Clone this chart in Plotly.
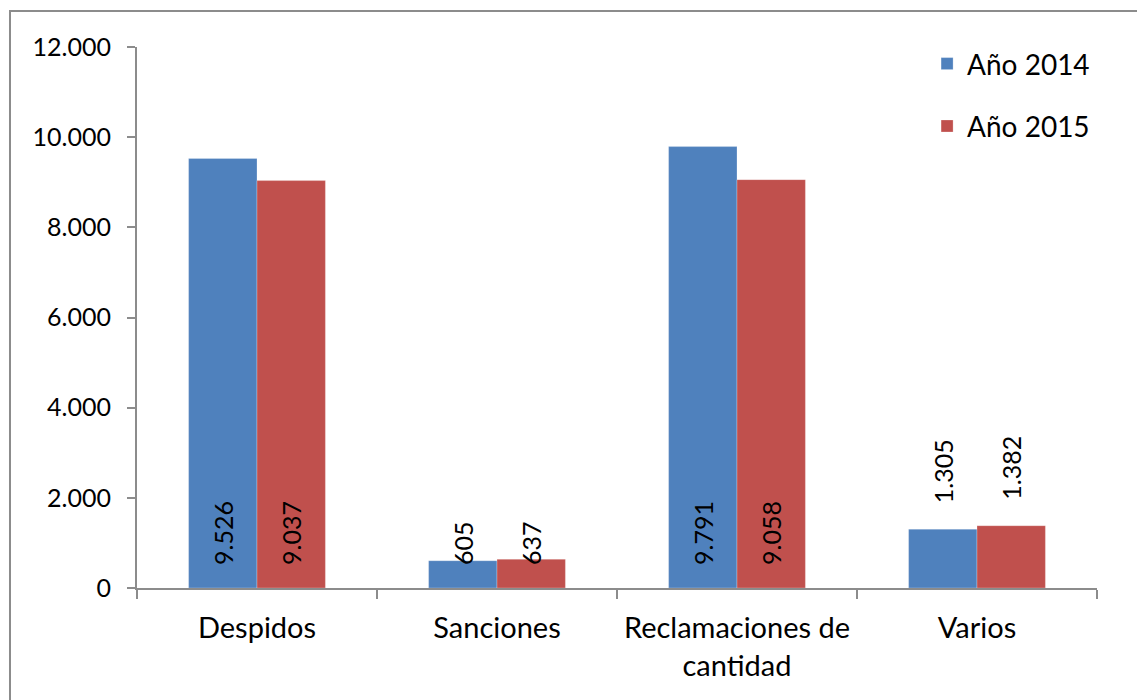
import plotly.graph_objects as go

categories = ["Despidos", "Sanciones", "Reclamaciones de<br>cantidad", "Varios"]
series_names = ["Año 2014", "Año 2015"]
values_2014 = [9526, 605, 9791, 1305]
values_2015 = [9037, 637, 9058, 1382]
labels_2014 = ["9.526", "605", "9.791", "1.305"]
labels_2015 = ["9.037", "637", "9.058", "1.382"]
label_outside = [False, False, False, True]
y_ticks = [0, 2000, 4000, 6000, 8000, 10000, 12000]
y_ticktext = ["0", "2.000", "4.000", "6.000", "8.000", "10.000", "12.000"]

FONT = "Lato"
FS = 25
colors = ["#4F81BD", "#C0504D"]

fig = go.Figure()
for i, (name, vals) in enumerate([(series_names[0], values_2014), (series_names[1], values_2015)]):
    fig.add_trace(go.Bar(
        x=categories, y=vals, name=name,
        marker=dict(color=colors[i], line=dict(color="rgba(255,255,255,0.5)", width=0.5)),
        legendgroup=name,
    ))

annotations = []
for vals, labs, shift in [(values_2014, labels_2014, -34), (values_2015, labels_2015, 34)]:
    for c, v, lab, out in zip(categories, vals, labs, label_outside):
        annotations.append(dict(
            x=c, y=(v if out else 0), xref="x", yref="y",
            text=lab, showarrow=False, textangle=-90,
            xanchor="center", yanchor="bottom",
            xshift=shift, yshift=(24 if out else 21),
            font=dict(family=FONT, size=FS, color="black"),
        ))

fig.update_layout(
    width=1145, height=700,
    margin=dict(l=129, r=56, t=39, b=120),
    paper_bgcolor="white", plot_bgcolor="white",
    font=dict(family=FONT, size=FS, color="black"),
    barmode="group", bargap=0.43, bargroupgap=0,
    showlegend=True,
    legend=dict(x=0.823, y=1.015, xanchor="left", yanchor="top",
                font=dict(family=FONT, size=28, color="black"),
                traceorder="grouped", tracegroupgap=23,
                itemwidth=30, bgcolor="rgba(0,0,0,0)"),
    annotations=annotations,
    shapes=[dict(type="rect", xref="paper", yref="paper",
                 x0=-0.1323, x1=1.2, y0=-0.4, y1=1.0665,
                 line=dict(color="#8c8c8c", width=2), fillcolor="rgba(0,0,0,0)", layer="below")],
)
fig.update_yaxes(range=[0, 12000], tickvals=y_ticks, ticktext=y_ticktext,
                 showgrid=False, zeroline=False, showline=True, linecolor="#8c8c8c", linewidth=2,
                 ticks="outside", ticklen=8, tickcolor="#8c8c8c", tickwidth=2,
                 ticklabelstandoff=11,
                 tickfont=dict(family=FONT, size=FS, color="black"))
fig.update_xaxes(showgrid=False, showline=True, linecolor="#8c8c8c", linewidth=2,
                 ticks="outside", tickson="boundaries", ticklen=9, tickcolor="#8c8c8c", tickwidth=2,
                 ticklabelstandoff=13,
                 tickfont=dict(family=FONT, size=29, color="black"))

fig.write_html("out.html")
